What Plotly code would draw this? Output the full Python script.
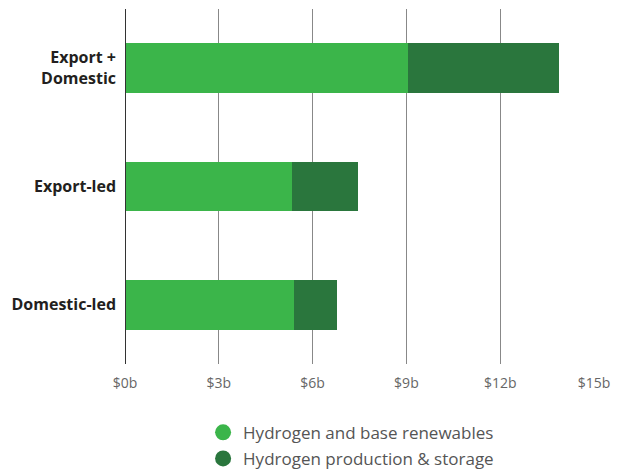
import plotly.graph_objects as go

categories = ["Export +<br>Domestic", "Export-led", "Domestic-led"]
base_renewables = [9.05, 5.34, 5.40]
production_storage = [4.83, 2.11, 1.38]
tick_vals = [0, 3, 6, 9, 12, 15]
tick_text = ["$0b", "$3b", "$6b", "$9b", "$12b", "$15b"]
series_names = ["Hydrogen and base renewables", "Hydrogen production & storage"]
colors = ["#3BB54A", "#2A763D"]

fig = go.Figure()
for vals, name, col in zip([base_renewables, production_storage], series_names, colors):
    fig.add_trace(go.Bar(
        y=categories, x=vals, orientation="h", name=name,
        marker=dict(color=col, line=dict(width=0)),
        showlegend=False,
    ))
for i, (name, col) in enumerate(zip(series_names, colors)):
    fig.add_trace(go.Scatter(
        x=[None], y=[None], mode="markers", name=name,
        legendgroup=f"g{i}", legendrank=i + 1,
        marker=dict(color=col, size=16, symbol="circle"),
        showlegend=True,
    ))

fig.update_layout(
    barmode="stack",
    bargap=0.58,
    width=618, height=472,
    margin=dict(l=125, r=24, t=9, b=108, autoexpand=False),
    plot_bgcolor="white", paper_bgcolor="white",
    font=dict(family="Open Sans, Lato, sans-serif", color="#555"),
    xaxis=dict(
        range=[0, 15], tickvals=tick_vals, ticktext=tick_text,
        showgrid=True, gridcolor="#888", gridwidth=1,
        zeroline=False, showline=False, automargin=False,
        ticks="outside", ticklen=0, ticklabelstandoff=6,
        tickfont=dict(size=14, color="#666"),
    ),
    yaxis=dict(
        categoryorder="array", categoryarray=categories,
        autorange="reversed", automargin=False,
        showgrid=False, zeroline=False,
        showline=False,
        ticks="", ticklabelstandoff=8,
        tickfont=dict(size=16, color="#231F20", family="Open Sans, Lato, sans-serif", weight="bold"),
    ),
    legend=dict(
        orientation="v", x=0.1665, xanchor="left", y=-0.143, yanchor="top",
        font=dict(size=17, color="#555"),
        itemwidth=30, tracegroupgap=1, traceorder="grouped",
    ),
    shapes=[dict(type="line", xref="x", yref="paper", x0=0, x1=0, y0=0, y1=1,
                 line=dict(color="#333", width=2), layer="above")],
)

fig.write_html("out.html", config={"displayModeBar": False},
               post_script="document.body.style.margin='0';document.body.style.overflow='hidden';")
